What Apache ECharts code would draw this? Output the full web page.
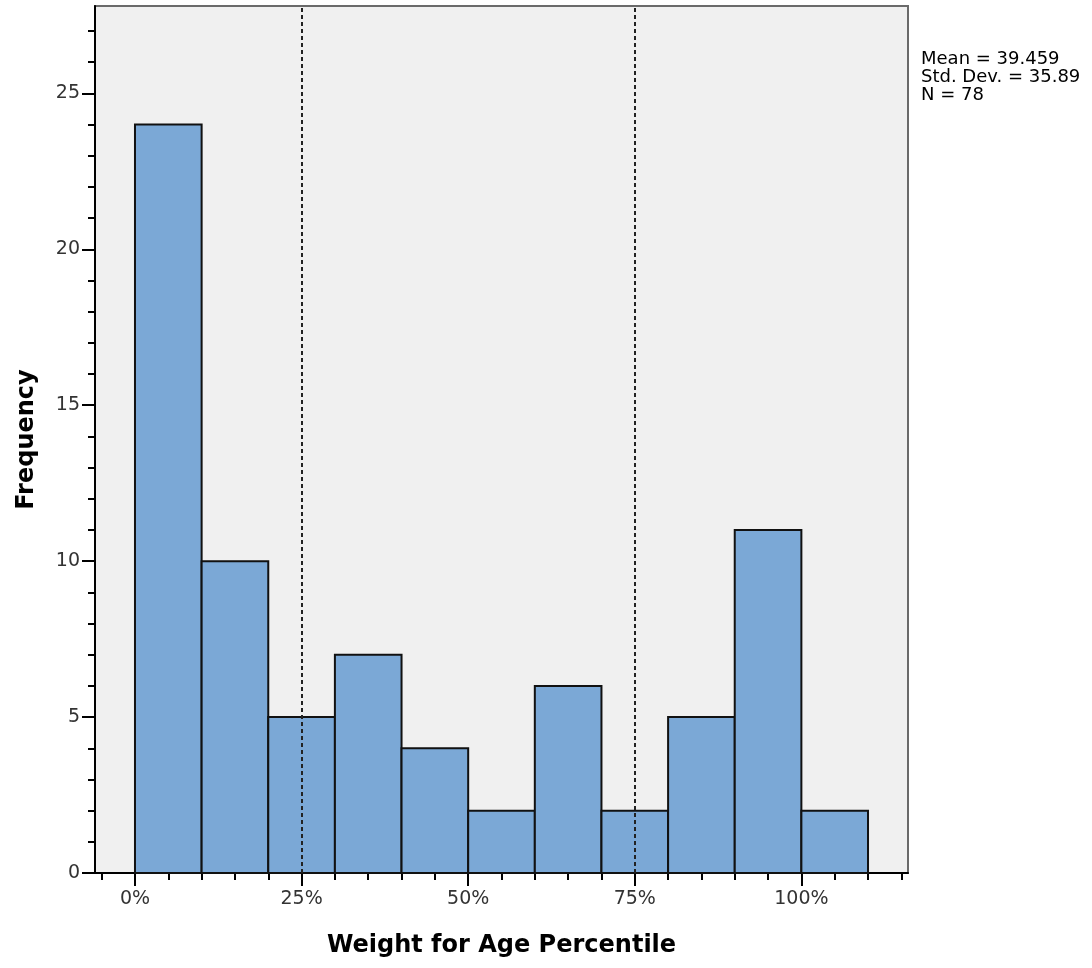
<!DOCTYPE html>
<html>
<head>
<meta charset="utf-8">
<script src="https://cdn.jsdelivr.net/npm/echarts@6/dist/echarts.min.js"></script>
<style>
  html, body { margin: 0; padding: 0; background: #ffffff; }
  #chart { width: 1092px; height: 968px; }
</style>
</head>
<body>
<div id="chart"></div>
<script>
// Histogram of weight-for-age percentile (bins of 10 percentile points)
const binStarts = [0, 10, 20, 30, 40, 50, 60, 70, 80, 90, 100];
const binWidth = 10;
const frequencies = [24, 10, 5, 7, 4, 2, 6, 2, 5, 11, 2];

// Axis ticks
const xMajorTicks = [0, 25, 50, 75, 100];
const xMinorTicks = [-5, 5, 10, 15, 20, 30, 35, 40, 45, 55, 60, 65, 70, 80, 85, 90, 95, 105, 110, 115];
const yMajorTicks = [0, 5, 10, 15, 20, 25];
const yMinorTicks = [1, 2, 3, 4, 6, 7, 8, 9, 11, 12, 13, 14, 16, 17, 18, 19, 21, 22, 23, 24, 26, 27];

// Quartile reference lines
const referenceLines = [25, 75];

// Summary statistics
const statsLines = ['Mean = 39.459', 'Std. Dev. = 35.89', 'N = 78'];

const barData = binStarts.map((s, i) => [s, s + binWidth, frequencies[i]]);

const tickFont = { fontFamily: 'DejaVu Sans', fontSize: 19, color: '#333333' };
const titleFont = { fontFamily: 'DejaVu Sans', fontSize: 24, fontWeight: 'bold', color: '#000000' };

const chart = echarts.init(document.getElementById('chart'), null, { renderer: 'canvas' });

const option = {
  animation: false,
  backgroundColor: '#ffffff',
  grid: {
    left: 95, right: 184, top: 6, bottom: 95,
    show: true,
    backgroundColor: '#f0f0f0',
    borderColor: '#6a6a6a',
    borderWidth: 2
  },
  xAxis: [
    {
      type: 'value', min: -6, max: 116, position: 'bottom',
      axisLine: { show: true, onZero: false, lineStyle: { color: '#000', width: 2 } },
      axisTick: { show: true, customValues: xMinorTicks, length: 7, lineStyle: { color: '#000', width: 2 } },
      axisLabel: { show: false },
      splitLine: { show: false }
    },
    {
      type: 'value', min: -6, max: 116, position: 'bottom',
      name: 'Weight for Age Percentile',
      nameLocation: 'middle', nameGap: 61,
      nameTextStyle: titleFont,
      axisLine: { show: false, onZero: false },
      axisTick: { show: true, customValues: xMajorTicks, length: 13, lineStyle: { color: '#000', width: 2 } },
      axisLabel: Object.assign({ customValues: xMajorTicks, formatter: v => v + '%', margin: 17 }, tickFont),
      splitLine: { show: false }
    }
  ],
  yAxis: [
    {
      type: 'value', min: 0, max: 27.8, position: 'left',
      axisLine: { show: true, onZero: false, lineStyle: { color: '#000', width: 2 } },
      axisTick: { show: true, customValues: yMinorTicks, length: 7, lineStyle: { color: '#000', width: 2 } },
      axisLabel: { show: false },
      splitLine: { show: false }
    },
    {
      type: 'value', min: 0, max: 27.8, position: 'left',
      name: 'Frequency',
      nameLocation: 'middle', nameGap: 56, nameRotate: 90,
      nameTextStyle: titleFont,
      axisLine: { show: false, onZero: false },
      axisTick: { show: true, customValues: yMajorTicks, length: 13, lineStyle: { color: '#000', width: 2 } },
      axisLabel: Object.assign({ customValues: yMajorTicks, margin: 15 }, tickFont),
      splitLine: { show: false }
    }
  ],
  series: [
    {
      type: 'custom',
      xAxisIndex: 0,
      yAxisIndex: 0,
      data: barData,
      renderItem: function (params, api) {
        const p0 = api.coord([api.value(0), api.value(2)]);
        const p1 = api.coord([api.value(1), 0]);
        return {
          type: 'rect',
          shape: { x: p0[0], y: p0[1], width: p1[0] - p0[0], height: p1[1] - p0[1] },
          style: { fill: '#7ba8d6', stroke: '#111111', lineWidth: 2 }
        };
      },
      markLine: {
        silent: true,
        symbol: 'none',
        label: { show: false },
        lineStyle: { color: '#222222', width: 2, type: [4, 3] },
        data: referenceLines.map(v => ({ xAxis: v })),
        z: 10
      },
      z: 2
    }
  ],
  graphic: [
    {
      type: 'text',
      left: 921,
      top: 50,
      style: {
        text: statsLines.join('\n'),
        fontFamily: 'DejaVu Sans',
        fontSize: 18,
        lineHeight: 18,
        fill: '#000000'
      }
    }
  ]
};

chart.setOption(option);
</script>
</body>
</html>
